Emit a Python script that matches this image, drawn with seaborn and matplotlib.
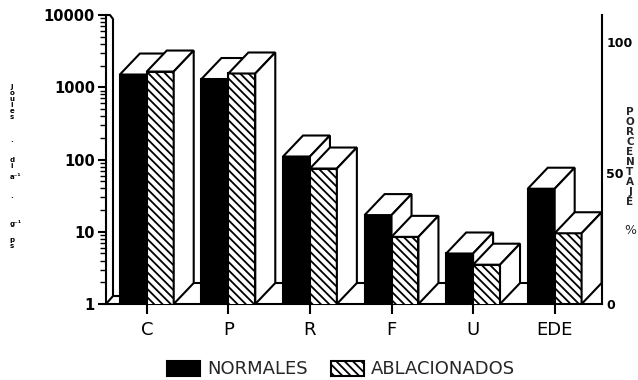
import numpy as np
import pandas as pd
import seaborn as sns
import matplotlib
matplotlib.use("Agg")
import matplotlib.pyplot as plt
from matplotlib.patches import Polygon, Patch
from matplotlib.lines import Line2D
from matplotlib.transforms import IdentityTransform
from matplotlib.ticker import LogLocator, NullFormatter, FixedLocator, FixedFormatter

# ---------------- data ----------------
categories = ["C", "P", "R", "F", "U"]
normales = [1500, 1300, 110, 17, 5]
ablacionados = [1650, 1550, 75, 8.5, 3.5]
pct_category = ["EDE"]
pct_normales = [44]
pct_ablacionados = [27]
series = ["NORMALES", "ABLACIONADOS"]
order = categories + pct_category
left_ticks = [1, 10, 100, 1000, 10000]
left_ticklabels = ["1", "10", "100", "1000", "10000"]
right_ticks = [0, 50, 100]
right_ticklabels = ["0", "50", "100"]

# ---------------- style ----------------
sns.set_theme(style="ticks")
plt.rcParams["font.family"] = ["DejaVu Sans"]
plt.rcParams["hatch.linewidth"] = 1.3
plt.rcParams["hatch.color"] = "black"
HATCH = "\\\\\\\\"

W, H = 638, 380
fig = plt.figure(figsize=(W / 100, H / 100), dpi=100)
fig.patch.set_facecolor("white")
ax = fig.add_axes([106 / W, 76 / H, 496 / W, 289 / H])

df = pd.DataFrame({
    "cat": categories * 2,
    "serie": [series[0]] * len(categories) + [series[1]] * len(categories),
    "val": normales + ablacionados,
})
sns.barplot(data=df, x="cat", y="val", hue="serie", order=order, hue_order=series,
            palette=["black", "white"], width=0.66, edgecolor="black", linewidth=1.5,
            saturation=1, errorbar=None, legend=False, ax=ax)

ax2 = ax.twinx()
df2 = pd.DataFrame({
    "cat": pct_category * 2,
    "serie": series,
    "val": pct_normales + pct_ablacionados,
})
sns.barplot(data=df2, x="cat", y="val", hue="serie", order=order, hue_order=series,
            palette=["black", "white"], width=0.66, edgecolor="black", linewidth=1.5,
            saturation=1, errorbar=None, legend=False, ax=ax2)

ax.set_yscale("log")
ax.set_ylim(1, 10000)
ax2.set_ylim(0, 110.3)
ax.set_xlim(-0.5, 5.58)
ax2.set_xlim(-0.5, 5.58)
for a in (ax, ax2):
    a.set_xlabel("")
    a.set_ylabel("")
ax2.patch.set_visible(False)

# hatch second series, z-order painter style
for a in (ax, ax2):
    for i, cont in enumerate(a.containers):
        for bar in cont:
            bar.set_zorder(2 + 2 * i)
            if i == 1:
                bar.set_hatch(HATCH)

DX, DY = 20, 21
ident = IdentityTransform()


def box3d(a, bar, z):
    x0 = bar.get_x()
    w = bar.get_width()
    y1 = bar.get_y() + bar.get_height()
    y0 = max(bar.get_y(), a.get_ylim()[0])
    X0, Y0 = a.transData.transform((x0, y0))
    X1, Y1 = a.transData.transform((x0 + w, y1))
    top = [(X0, Y1), (X1, Y1), (X1 + DX, Y1 + DY), (X0 + DX, Y1 + DY)]
    side = [(X1, Y0), (X1, Y1), (X1 + DX, Y1 + DY), (X1 + DX, Y0 + DY)]
    for verts in (top, side):
        a.add_patch(Polygon(verts, closed=True, facecolor="white", edgecolor="black",
                            linewidth=1.5, transform=ident, clip_on=False, zorder=z,
                            joinstyle="miter"))


for a in (ax, ax2):
    for i, cont in enumerate(a.containers):
        for bar in cont:
            if np.isfinite(bar.get_height()) and bar.get_height() > 0:
                box3d(a, bar, 2.5 + 2 * i)

# floor back line and left wall (decoration)
(L, B) = ax.transAxes.transform((0, 0))
(R, T) = ax.transAxes.transform((1, 1))
ax.add_line(Line2D([L + 16, R], [B + DY, B + DY], color="black", lw=1.5,
                   transform=ident, clip_on=False, zorder=1))
ax.add_line(Line2D([L, L + 4, L + 7, L + 7, L], [T, T, T - 4, B + 8, B],
                   color="black", lw=1.5, transform=ident, clip_on=False, zorder=1))
ax.add_line(Line2D([L + 7, L + 14], [B + 8, B + 8], color="black", lw=1.5,
                   transform=ident, clip_on=False, zorder=1))

# spines
for a in (ax, ax2):
    for s in a.spines.values():
        s.set_color("black")
        s.set_linewidth(1.5)
ax.spines["top"].set_visible(False)
ax.spines["right"].set_visible(False)
ax2.spines["top"].set_visible(False)
ax2.spines["left"].set_visible(False)
ax2.spines["bottom"].set_visible(False)

# ticks
ax.yaxis.set_major_locator(FixedLocator(left_ticks))
ax.yaxis.set_major_formatter(FixedFormatter(left_ticklabels))
ax.yaxis.set_minor_locator(LogLocator(base=10, subs=np.arange(2, 10)))
ax.yaxis.set_minor_formatter(NullFormatter())
ax.tick_params(axis="y", which="major", length=6, width=1.5, direction="out", pad=2,
               labelsize=10.5, colors="black")
ax.tick_params(axis="y", which="minor", length=4, width=1, direction="out", colors="black")
for t in ax.get_yticklabels():
    t.set_fontweight("bold")
ax.tick_params(axis="x", length=7, width=1.5, direction="out", pad=5, labelsize=13,
               colors="black")

ax2.yaxis.set_major_locator(FixedLocator(right_ticks))
ax2.yaxis.set_major_formatter(FixedFormatter(right_ticklabels))
ax2.tick_params(axis="y", length=0, pad=3, labelsize=9, colors="black")
for t in ax2.get_yticklabels():
    t.set_fontweight("bold")
ax2.tick_params(axis="x", length=0, labelbottom=False)

# side labels
fig.text(630 / W, 1 - 157 / H, "\n".join("PORCENTAJE"), ha="center", va="center",
         fontsize=7.5, fontweight="bold", linespacing=1.0)
fig.text(630 / W, 1 - 231 / H, "%", ha="center", va="center", fontsize=9)

small = dict(fontsize=5, fontweight="bold", color="black", linespacing=1.0)
fig.text(12 / W, 1 - 102 / H, "\n".join("Joules"), ha="center", va="center", **small)
fig.text(12 / W, 1 - 142 / H, "·", ha="center", va="center", **small)
fig.text(12 / W, 1 - 163 / H, "d\ni", ha="center", va="center", **small)
fig.text(9.8 / W, 1 - 177 / H, "a⁻¹", ha="left", va="center", **small)
fig.text(12 / W, 1 - 198 / H, "·", ha="center", va="center", **small)
fig.text(9.8 / W, 1 - 223 / H, "g⁻¹", ha="left", va="center", **small)
fig.text(12 / W, 1 - 243 / H, "p\ns", ha="center", va="center", **small)

# legend
handles = [Patch(facecolor="black", edgecolor="black", linewidth=1.5),
           Patch(facecolor="white", edgecolor="black", linewidth=1.5, hatch=HATCH)]
fig.legend(handles, series, loc="center", bbox_to_anchor=(0.535, 0.028), ncol=2,
           frameon=False, fontsize=13, handlelength=1.8, handleheight=0.9,
           handletextpad=0.4, columnspacing=1.3, borderpad=0, borderaxespad=0)

fig.savefig("out.png", dpi=100, facecolor="white")
